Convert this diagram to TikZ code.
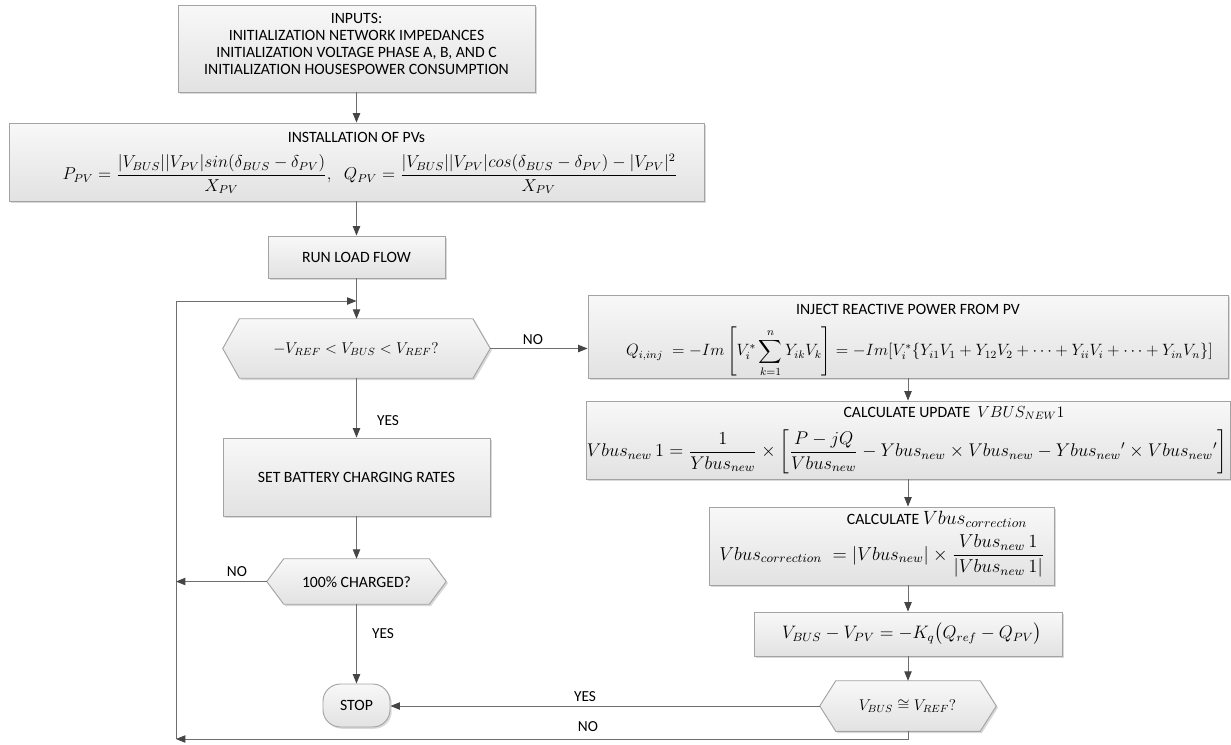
\documentclass[tikz,border=0pt]{standalone}
\usepackage{amsmath}
\usepackage{graphicx}
\usepackage{fontspec}
\setmainfont{Carlito}
\usetikzlibrary{arrows.meta,shadows,backgrounds,calc,fit}
\definecolor{boxtop}{HTML}{F8F8F8}
\definecolor{boxbot}{HTML}{E2E2E2}
\definecolor{boxline}{HTML}{A3A3A3}
\definecolor{linegray}{HTML}{6E6E6E}
\definecolor{tipgray}{HTML}{454545}
\begin{document}
\begin{tikzpicture}[x=0.75pt,y=-0.75pt,
  every node/.style={font=\fontsize{11.8}{12.75}\selectfont, text=black},
  box/.style={draw=boxline, line width=0.7pt, top color=boxtop, bottom color=boxbot,
    inner sep=0pt, align=center,
    drop shadow={shadow xshift=1.3pt, shadow yshift=-1.3pt, opacity=0.3, fill=black!50}},
  hexfill/.style={draw=boxline, line width=0.7pt, top color=boxtop, bottom color=boxbot,
    drop shadow={shadow xshift=1.3pt, shadow yshift=-1.3pt, opacity=0.3, fill=black!50}},
  hexnode/.style={inner sep=0pt, draw=none},
  form/.style={inner sep=0pt},
  arr/.style={draw=linegray, line width=0.65pt, -{Triangle[length=7pt,width=5.5pt,color=tipgray]}},
  lbl/.style={font=\fontsize{11.5}{12}\selectfont}
]
\useasboundingbox (0,0) rectangle (1231,744);

% ---------- left column ----------
\node[box, fit={(178,5)(535,92)}] (inputs) {};
\node[align=center, inner sep=0pt] (inputstext) at (356.5,43.5) {INPUTS:\\INITIALIZATION NETWORK IMPEDANCES\\INITIALIZATION VOLTAGE PHASE A, B, AND C\\INITIALIZATION HOUSESPOWER CONSUMPTION};

\node[box, fit={(9,123)(704,201)}] (pv) {};
\node[inner sep=0pt] (pvtitle) at (356.5,137) {INSTALLATION OF PVs};
\node[form] (pvform) at (370,174) {\resizebox{461pt}{!}{$P_{PV}=\dfrac{|V_{BUS}||V_{PV}|sin(\delta_{BUS}-\delta_{PV})}{X_{PV}},\;\; Q_{PV}=\dfrac{|V_{BUS}||V_{PV}|cos(\delta_{BUS}-\delta_{PV})-|V_{PV}|^{2}}{X_{PV}}$}};

\node[box, fit={(268,236)(445,278)}] (rlf) {};
\node[inner sep=0pt] (rlftext) at (356.5,257) {RUN LOAD FLOW};

\node[hexnode, fit={(223,319)(490,378)}] (dec1) {};
\node[form] (dec1text) at (356,349) {\resizebox{124pt}{!}{$-V_{REF}<V_{BUS}<V_{REF}?$}};

\node[box, fit={(223,438)(490,516)}] (bat) {};
\node[inner sep=0pt] (battext) at (356.5,477) {SET BATTERY CHARGING RATES};

\node[hexnode, fit={(267,559)(446,604)}] (dec2) {};
\node[inner sep=0pt] (dec2text) at (356.5,582) {100\% CHARGED?};

\node[box, rounded corners=13pt, fit={(323,684)(390,727)}] (stop) {};
\node[inner sep=0pt] (stoptext) at (356.5,705.5) {STOP};

% ---------- right column ----------
\node[box, fit={(588,295)(1228,378)}] (inj) {};
\node[inner sep=0pt] (injtitle) at (908,309) {INJECT REACTIVE POWER FROM PV};
\node[form] (injform) at (919.5,352) {\resizebox{440pt}{!}{$Q_{i,inj}\;=-Im\left[V_i^{*}\displaystyle\sum_{k=1}^{n}Y_{ik}V_k\right]=-Im[V_i^{*}\{Y_{i1}V_1+Y_{12}V_2+\cdots+Y_{ii}V_i+\cdots+Y_{in}V_n\}]$}};

\node[box, fit={(586,401)(1230,479)}] (upd) {};
\node[inner sep=0pt] (updtitle) at (954,413) {CALCULATE UPDATE\ \ {\large$VBUS_{NEW}1$}};
\node[form] (updform) at (907,452) {\resizebox{480pt}{!}{$Vbus_{new}\,1=\dfrac{1}{Ybus_{new}}\times\left[\dfrac{P-jQ}{Vbus_{new}}-Ybus_{new}\times Vbus_{new}-Ybus_{new}{}'\times Vbus_{new}{}'\right]$}};

\node[box, fit={(709,507)(1054,585)}] (corr) {};
\node[inner sep=0pt] (corrtitle) at (937,519) {CALCULATE\ {\Large$Vbus_{correction}$}};
\node[form] (corrform) at (882,556) {\resizebox{244pt}{!}{$Vbus_{correction}\;=|Vbus_{new}|\times\dfrac{Vbus_{new}\,1}{|Vbus_{new}\,1|}$}};

\node[box, fit={(754,612)(1062,656)}] (kq) {};
\node[form] (kqtext) at (912,634) {\resizebox{195pt}{!}{$V_{BUS}-V_{PV}=-K_q\big(Q_{ref}-Q_{PV}\big)$}};

\node[hexnode, fit={(820,681)(996,731)}] (dec3) {};
\node[form] (dec3text) at (907.5,706) {\resizebox{73pt}{!}{$V_{BUS}\cong V_{REF}?$}};

% ---------- hexagon outlines ----------
\begin{scope}[on background layer]
\path[hexfill] (dec1.west) -- ([xshift=12.5pt]dec1.north west) -- ([xshift=-13pt]dec1.north east) -- (dec1.east) -- ([xshift=-13pt]dec1.south east) -- ([xshift=12.5pt]dec1.south west) -- cycle;
\path[hexfill] (dec2.west) -- ([xshift=12.75pt]dec2.north west) -- ([xshift=-12.75pt]dec2.north east) -- (dec2.east) -- ([xshift=-12.75pt]dec2.south east) -- ([xshift=12.75pt]dec2.south west) -- cycle;
\path[hexfill] (dec3.west) -- ([xshift=12pt]dec3.north west) -- ([xshift=-12pt]dec3.north east) -- (dec3.east) -- ([xshift=-12pt]dec3.south east) -- ([xshift=12pt]dec3.south west) -- cycle;
\end{scope}

% ---------- connectors ----------
\coordinate (lb) at (176,739);
\coordinate (lt) at (176,301);
\coordinate (lj) at (356.5,301);

\draw[arr] (inputs.south) -- (pv.north);
\draw[arr] (pv.south) -- (rlf.north);
\draw[arr] (rlf.south) -- (dec1.north);
\draw[arr] (lb) -- (lt) -- (lj);
\draw[arr] (dec1.east) -- (inj.west |- dec1.east);
\draw[arr] (dec1.south) -- (bat.north);
\draw[arr] (bat.south) -- (dec2.north);
\draw[arr] (dec2.west) -- (dec2.west -| lb);
\draw[arr] (dec2.south) -- (stop.north);
\draw[arr] (inj.south) -- (upd.north);
\draw[arr] (upd.south) -- (upd.south |- corr.north);
\draw[arr] (upd.south |- corr.south) -- (kq.north);
\draw[arr] (kq.south) -- (dec3.north);
\draw[arr] (dec3.west) -- (stop.east |- dec3.west);
\draw[arr] (dec3.south) -- (dec3.south |- lb) -- (lb);

% ---------- labels ----------
\node[lbl] (lno1) at (533,340) {NO};
\node[lbl] (lyes1) at (388,421) {YES};
\node[lbl] (lno2) at (237,572) {NO};
\node[lbl] (lyes2) at (383,634) {YES};
\node[lbl] (lyes3) at (585,697) {YES};
\node[lbl] (lno3) at (588,727) {NO};
\end{tikzpicture}
\end{document}
